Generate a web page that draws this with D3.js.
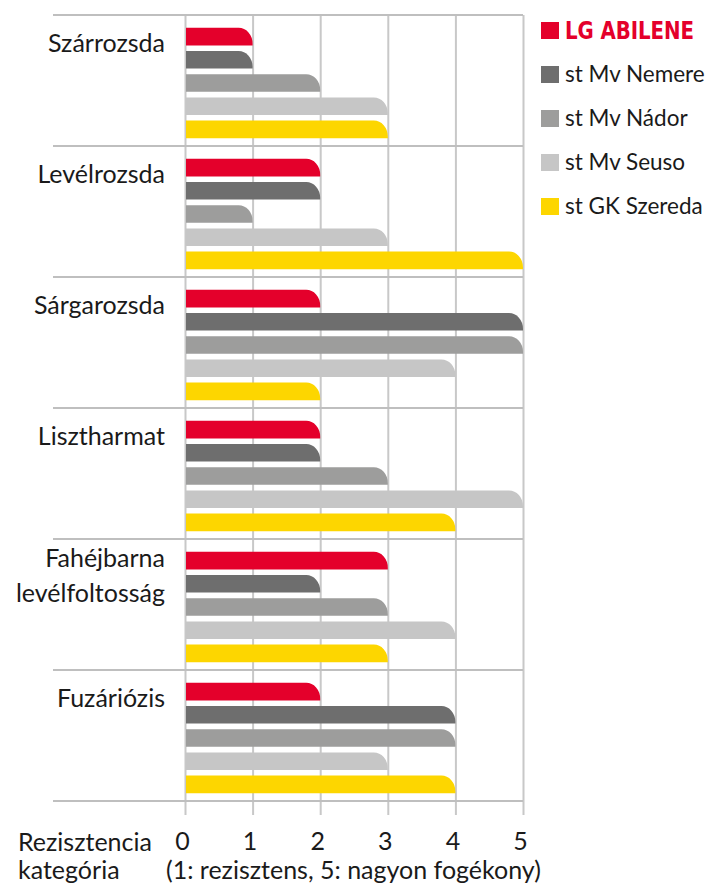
<!DOCTYPE html>
<html>
<head>
<meta charset="utf-8">
<script src="https://cdn.jsdelivr.net/npm/d3@7"></script>
<style>
  body { margin: 0; background: #fff; }
  text { font-family: Lato, "Open Sans", sans-serif; fill: #1a1a1a; }
</style>
</head>
<body>
<div id="chart"></div>
<script>
// categories (diseases) and varieties
const categories = ["Szárrozsda", "Levélrozsda", "Sárgarozsda", "Lisztharmat", "Fahéjbarna|levélfoltosság", "Fuzáriózis"];
const series = ["LG ABILENE", "st Mv Nemere", "st Mv Nádor", "st Mv Seuso", "st GK Szereda"];
const colors = ["#e4002b", "#6e6e6e", "#9d9d9c", "#c6c6c6", "#fdd600"];

// resistance score per category, one array per variety
const abilene = [1, 2, 2, 2, 3, 2];
const nemere  = [1, 2, 5, 2, 2, 4];
const nador   = [2, 1, 5, 3, 3, 4];
const seuso   = [3, 3, 4, 5, 4, 3];
const szereda = [3, 5, 2, 4, 3, 4];
const tickValues = [0, 1, 2, 3, 4, 5];

const allValues = [abilene, nemere, nador, seuso, szereda];

const width = 710, height = 883;
const svg = d3.select("#chart").append("svg")
    .attr("width", width)
    .attr("height", height);

const x = d3.scaleLinear().domain([0, 5]).range([185, 523]);
const y = d3.scaleBand().domain(categories).range([15, 801]);
const yInner = d3.scaleBand().domain(series)
    .range([10, 126])
    .paddingInner(0.24)
    .paddingOuter(0.12);

// vertical gridlines + tick labels
const xAxis = svg.append("g")
    .attr("transform", "translate(0,815)")
    .call(d3.axisBottom(x).tickValues(tickValues).tickFormat(d3.format("d")).tickSize(-800).tickPadding(17));
xAxis.select(".domain").remove();
xAxis.selectAll(".tick line").attr("stroke", "#c8c8c8").attr("stroke-width", 2);
xAxis.selectAll(".tick text")
    .attr("font-size", 25)
    .attr("dx", -3)
    .attr("fill", "#1a1a1a")
    .style("font-family", "Lato, sans-serif");

// horizontal separators
const seps = categories.map(c => y(c)).concat([y.range()[1]]);
svg.append("g").selectAll("line")
  .data(seps)
  .enter()
  .append("line")
    .attr("x1", 53)
    .attr("x2", x(5))
    .attr("y1", d => d)
    .attr("y2", d => d)
    .attr("stroke", "#bfbfbf")
    .attr("stroke-width", 2);

// bar with rounded top-right end
function barPath(x0, x1, y0, h) {
  const rx = Math.min(14, x1 - x0), ry = h * 0.9;
  return "M" + x0 + "," + y0 +
    "L" + (x1 - rx) + "," + y0 +
    "A" + rx + "," + ry + " 0 0 1 " + x1 + "," + (y0 + ry) +
    "L" + x1 + "," + (y0 + h) +
    "L" + x0 + "," + (y0 + h) + "Z";
}

const groups = svg.append("g").selectAll("g")
  .data(categories)
  .enter()
  .append("g")
    .attr("transform", d => "translate(0," + y(d) + ")");

groups.selectAll("path")
  .data((c, i) => series.map((s, j) => ({ s: s, j: j, v: allValues[j][i] })))
  .enter()
  .append("path")
    .attr("d", d => barPath(x(0) + 1, x(d.v), yInner(d.s), yInner.bandwidth()))
    .attr("fill", d => colors[d.j]);

// category labels
groups.each(function(c) {
  const lines = c.split("|");
  const t = d3.select(this).append("text")
    .attr("text-anchor", "end")
    .attr("font-size", 25);
  lines.forEach((l, k) => {
    t.append("tspan")
      .attr("x", 165)
      .attr("y", lines.length > 1 ? 28 + k * 35 : 37)
      .text(l);
  });
});

// legend
const legend = svg.append("g").selectAll("g")
  .data(series)
  .enter()
  .append("g")
    .attr("transform", (d, i) => "translate(541," + (22 + i * 44) + ")");

legend.append("rect")
    .attr("width", 18)
    .attr("height", 17)
    .attr("fill", (d, i) => colors[i]);

legend.filter((d, i) => i > 0).append("text")
    .attr("x", 24)
    .attr("y", 16)
    .attr("font-size", 22.5)
    .text(d => d);

// brand entry: condensed, letter-spaced, slightly stretched vertically
legend.filter((d, i) => i === 0).append("text")
    .attr("transform", "translate(24,16.5) scale(1,1.12)")
    .attr("font-size", 22)
    .attr("font-weight", "bold")
    .style("font-family", "'Liberation Sans Narrow', 'DejaVu Sans Condensed', sans-serif")
    .style("fill", colors[0])
    .attr("textLength", 129)
    .attr("lengthAdjust", "spacing")
    .text(d => d);

// axis title
const title = svg.append("g");
title.append("text").attr("x", 18).attr("y", 851).attr("font-size", 25).text("Rezisztencia");
title.append("text").attr("x", 18).attr("y", 879).attr("font-size", 25).text("kategória");
title.append("text").attr("x", 166).attr("y", 879).attr("font-size", 25).text("(1: rezisztens, 5: nagyon fogékony)");
</script>
</body>
</html>
